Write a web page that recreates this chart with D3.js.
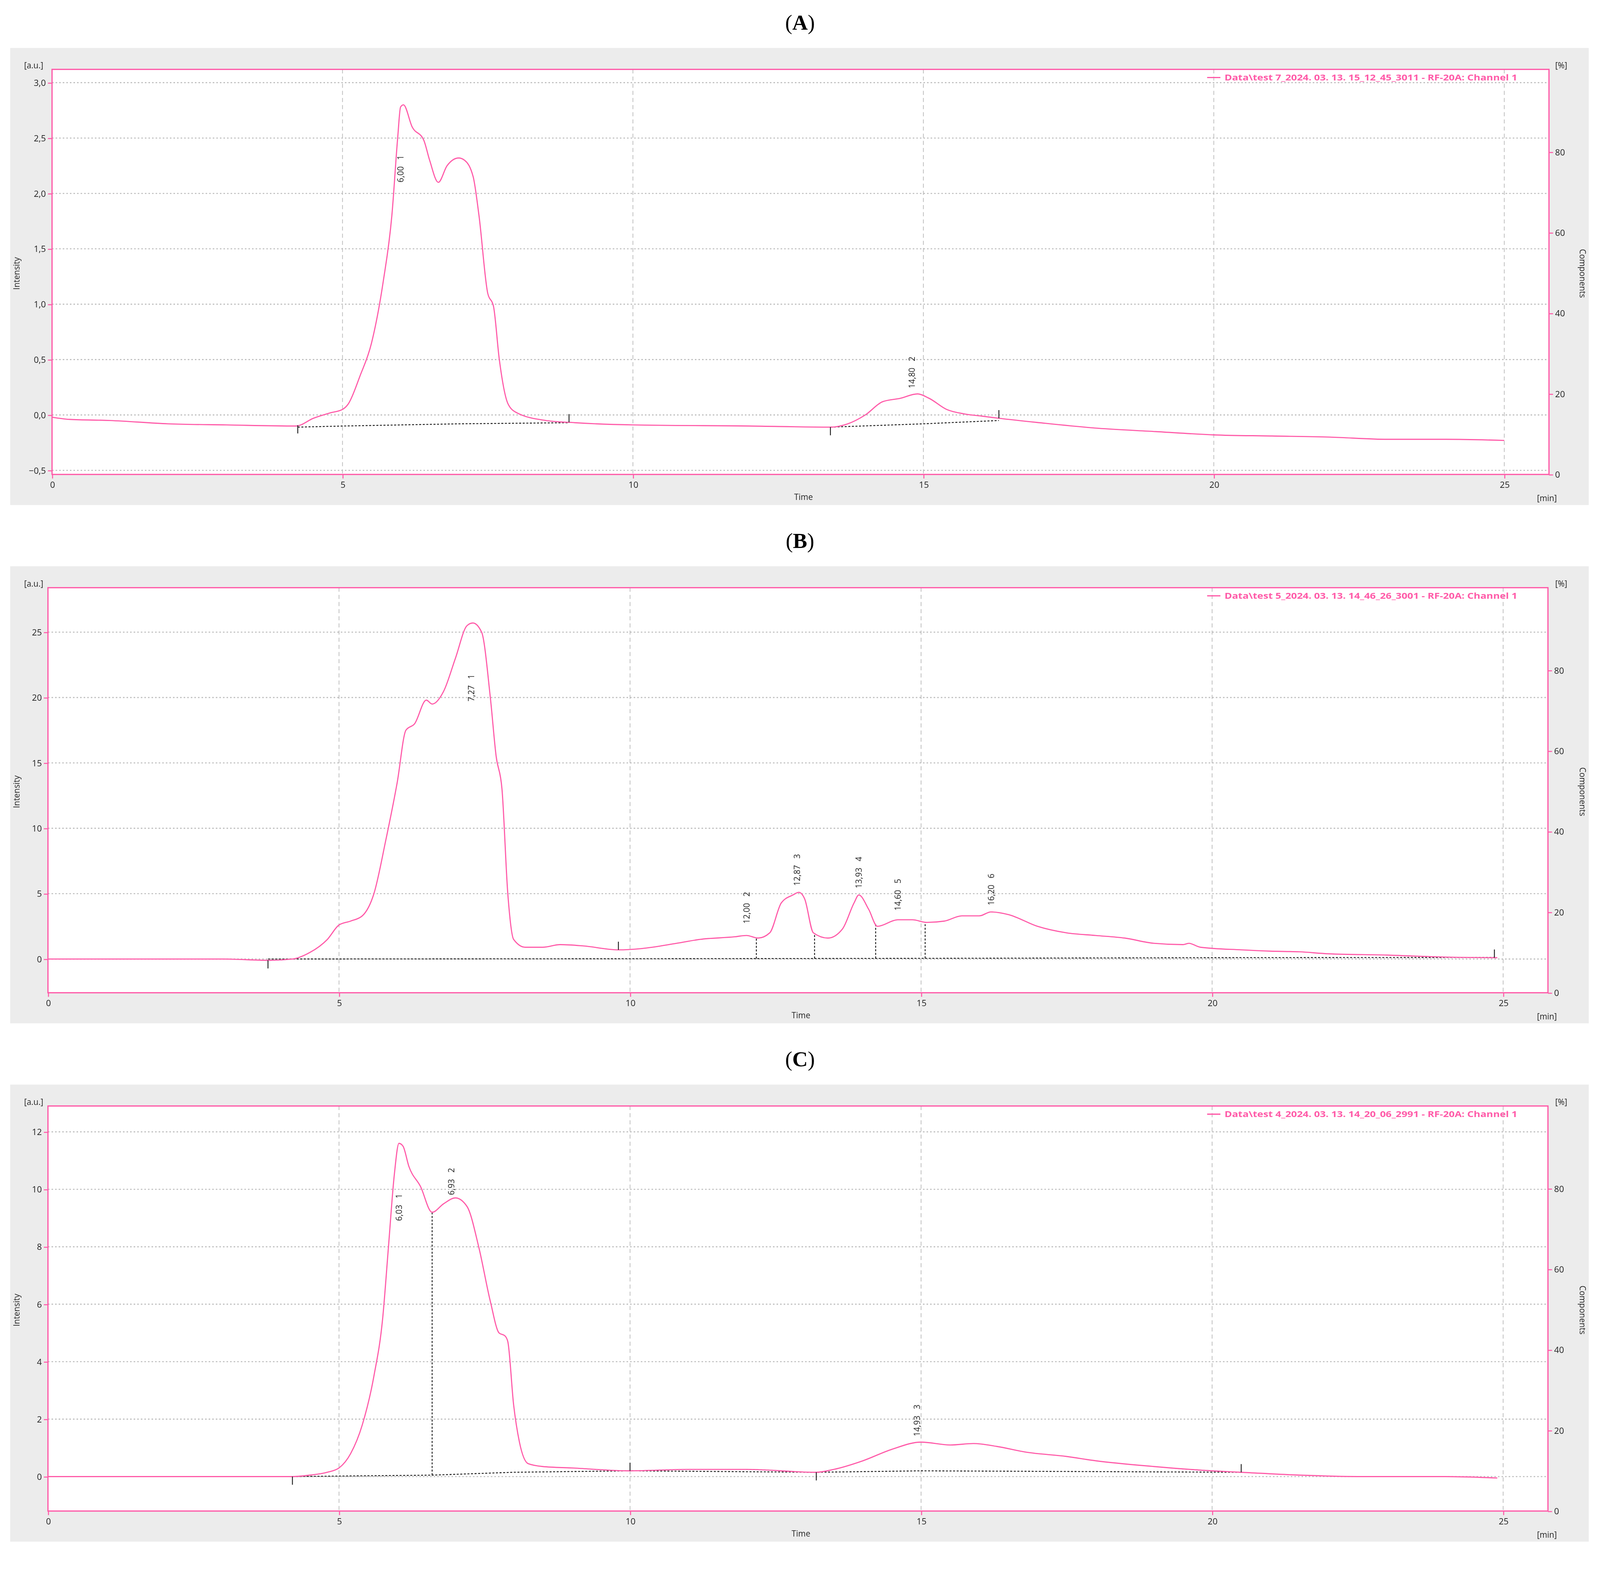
<!DOCTYPE html>
<html><head><meta charset="utf-8">
<script src="https://cdn.jsdelivr.net/npm/d3@7"></script>
<style>html,body{margin:0;background:#fff;overflow:hidden}svg{position:fixed;left:0;top:0;width:100vw;height:100vh}</style>
</head><body>
<script>
// chromatogram data: [time min, intensity]
var traceA = [[0,-0.02],[0.3,-0.04],[1,-0.05],[2,-0.08],[3,-0.09],[4.2,-0.1],[4.5,-0.03],[4.8,0.02],[5.0,0.05],[5.1,0.1],[5.3,0.35],[5.5,0.65],[5.7,1.2],[5.85,1.8],[5.95,2.5],[6.0,2.78],[6.05,2.8],[6.2,2.6],[6.4,2.48],[6.5,2.3],[6.65,2.1],[6.8,2.25],[7.0,2.32],[7.1,2.3],[7.25,2.15],[7.35,1.8],[7.5,1.1],[7.6,0.98],[7.7,0.5],[7.85,0.1],[8.0,0.02],[8.5,-0.05],[9,-0.07],[10,-0.09],[12,-0.1],[13.4,-0.11],[13.7,-0.08],[14.0,0.0],[14.3,0.12],[14.6,0.15],[14.9,0.19],[15.1,0.15],[15.4,0.05],[15.7,0.01],[16,-0.01],[16.3,-0.03],[17,-0.07],[18,-0.12],[19,-0.15],[20,-0.18],[21,-0.19],[22,-0.2],[23,-0.22],[24,-0.22],[25,-0.23]];
var traceB = [[0,0],[3,0],[3.8,-0.1],[4.2,0],[4.5,0.5],[4.8,1.5],[5.0,2.6],[5.2,2.9],[5.4,3.3],[5.6,5],[5.8,9],[6.0,13.5],[6.15,17.5],[6.3,18],[6.5,19.8],[6.6,19.5],[6.8,20.5],[7.0,23],[7.2,25.5],[7.3,25.7],[7.45,25],[7.6,20],[7.7,15.5],[7.8,13],[7.9,5],[8.0,1.5],[8.2,0.9],[8.5,0.9],[8.8,1.1],[9.2,1.0],[9.8,0.7],[10.2,0.8],[10.8,1.2],[11.2,1.5],[11.8,1.7],[12.0,1.8],[12.2,1.6],[12.4,2.0],[12.6,4.3],[12.8,4.9],[12.9,5.1],[13.0,4.6],[13.15,2.0],[13.4,1.6],[13.65,2.3],[13.85,4.3],[13.93,4.9],[14.1,3.8],[14.25,2.5],[14.6,3.0],[14.85,3.0],[15.1,2.8],[15.4,2.9],[15.7,3.3],[16.0,3.3],[16.2,3.6],[16.5,3.4],[17,2.5],[17.5,2.0],[18,1.8],[18.5,1.6],[19,1.2],[19.5,1.1],[19.6,1.2],[19.8,0.9],[20.5,0.7],[21,0.6],[21.5,0.55],[22,0.4],[23,0.3],[24,0.15],[24.9,0.1]];
var traceC = [[0,0],[4.2,0],[4.5,0.05],[4.8,0.15],[5.0,0.3],[5.2,0.8],[5.4,1.8],[5.6,3.5],[5.75,5.5],[5.85,8],[5.95,10.5],[6.03,11.6],[6.1,11.5],[6.2,10.8],[6.4,10.1],[6.6,9.2],[6.8,9.5],[7.0,9.7],[7.2,9.4],[7.4,8.0],[7.6,6.1],[7.75,5.0],[7.85,4.9],[7.9,4.7],[8.0,2.5],[8.1,1.2],[8.25,0.45],[8.5,0.35],[9,0.3],[10,0.2],[11,0.25],[12,0.25],[13.2,0.15],[13.5,0.25],[14.0,0.55],[14.5,0.95],[15.0,1.2],[15.5,1.1],[15.9,1.15],[16.3,1.05],[16.8,0.85],[17.5,0.7],[18,0.55],[19,0.35],[20,0.2],[20.5,0.15],[21.5,0.05],[22.5,0.0],[24,0.0],[24.9,-0.05]];

// integration baselines [t, y]
var baseA = [[[4.23,-0.11],[5,-0.1],[6,-0.09],[7,-0.08],[8.9,-0.07]],[[13.4,-0.11],[15,-0.08],[16.3,-0.05]]];
var baseB = [[[3.78,0],[10,0.02],[15,0.05],[20,0.1],[24.85,0.12]]];
var baseC = [[[4.2,0],[6.6,0.05],[8,0.15],[10,0.2],[13.2,0.15],[15,0.2],[20.5,0.15]]];

// integration marks [t, dir] (dir -1 = down, 1 = up)
var marksA = [[4.23,-1],[8.9,1],[13.4,-1],[16.3,1]];
var marksB = [[3.78,-1],[9.8,1],[24.85,1]];
var marksC = [[4.2,-1],[10,1],[13.2,-1],[20.5,1]];

// drop lines between peaks: t
var dropsB = [12.17,13.17,14.22,15.07];
var dropsC = [6.6];

// peak labels [t, label y, text]
var peaksA = [[6.0,2.1,"6,00   1"],[14.8,0.24,"14,80   2"]];
var peaksB = [[7.27,19.7,"7,27   1"],[12.0,2.7,"12,00   2"],[12.87,5.6,"12,87   3"],[13.93,5.4,"13,93   4"],[14.6,3.7,"14,60   5"],[16.2,4.1,"16,20   6"]];
var peaksC = [[6.03,8.9,"6,03   1"],[6.93,9.8,"6,93   2"],[14.93,1.4,"14,93   3"]];

var xTicks = [0,5,10,15,20,25];
var pctTicks = [0,20,40,60,80];
var yTicksA = [-0.5,0,0.5,1,1.5,2,2.5,3];
var yTicksB = [0,5,10,15,20,25];
var yTicksC = [0,2,4,6,8,10,12];

var panels = [
  {title:"A", top:47, trace:traceA, base:baseA, marks:marksA, drops:[], peaks:peaksA, yt:yTicksA, ydom:[-0.537,3.12], fmt:function(d){return d3.format(".1f")(d).replace(".",",");}, legend:"Data\\test 7_2024. 03. 13. 15_12_45_3011 - RF-20A: Channel 1", px0:51, px1:1518},
  {title:"B", top:555, trace:traceB, base:baseB, marks:marksB, drops:dropsB, peaks:peaksB, yt:yTicksB, ydom:[-2.58,28.4], fmt:String, legend:"Data\\test 5_2024. 03. 13. 14_46_26_3001 - RF-20A: Channel 1", px0:47, px1:1517},
  {title:"C", top:1063, trace:traceC, base:baseC, marks:marksC, drops:dropsC, peaks:peaksC, yt:yTicksC, ydom:[-1.2,12.9], fmt:String, legend:"Data\\test 4_2024. 03. 13. 14_20_06_2991 - RF-20A: Channel 1", px0:47, px1:1517}
];

var pink = "#ff5aa8", font = "Open Sans, DejaVu Sans, sans-serif";
var svg = d3.select("body").append("svg")
  .attr("viewBox","0 0 1568 1525.4").attr("preserveAspectRatio","xMidYMin meet");

panels.forEach(function(p){
  var g = svg.append("g").attr("transform","translate(0,"+p.top+")");
  var t0 = 21, t1 = 418;
  var x = d3.scaleLinear().domain([0,25]).range([p.px0, p.px0 + (p.px1-p.px0)*25/25.77]);
  var y = d3.scaleLinear().domain(p.ydom).range([t1,t0]);
  var yr = d3.scaleLinear().domain([0,100.5]).range([t1,t0]);

  svg.append("text").attr("x",784).attr("y",p.top-18).attr("text-anchor","middle")
    .attr("font-family","Liberation Serif, serif").attr("font-size",21)
    .html('(<tspan font-weight="bold">'+p.title+'</tspan>)');

  g.append("rect").attr("x",10).attr("y",0).attr("width",1547).attr("height",448).attr("fill","#ececec");
  g.append("rect").attr("x",p.px0).attr("y",t0).attr("width",p.px1-p.px0).attr("height",t1-t0).attr("fill","#fff");

  // grid
  g.selectAll(".hg").data(p.yt).enter().append("line")
    .attr("x1",p.px0).attr("x2",p.px1).attr("y1",y).attr("y2",y)
    .attr("stroke","#bbb").attr("stroke-width",1).attr("stroke-dasharray","1.5,2");
  g.selectAll(".vg").data(xTicks.filter(function(d){return d>0;})).enter().append("line")
    .attr("x1",x).attr("x2",x).attr("y1",t0).attr("y2",t1)
    .attr("stroke","#bbb").attr("stroke-width",0.7).attr("stroke-dasharray","4,3");

  // axes
  var ax = g.append("g").attr("transform","translate(0,"+t1+")")
    .call(d3.axisBottom(x).tickValues(xTicks).tickSize(4).tickPadding(3));
  var ay = g.append("g").attr("transform","translate("+p.px0+",0)")
    .call(d3.axisLeft(y).tickValues(p.yt).tickFormat(p.fmt).tickSize(4).tickPadding(2));
  var ar = g.append("g").attr("transform","translate("+p.px1+",0)")
    .call(d3.axisRight(yr).tickValues(pctTicks).tickSize(4).tickPadding(2));
  [ax,ay,ar].forEach(function(a){
    a.select(".domain").remove();
    a.selectAll("line").attr("stroke",pink);
    a.selectAll("text").attr("font-family",font).attr("font-size",8.5).attr("fill","#222");
  });
  g.append("rect").attr("x",p.px0).attr("y",t0).attr("width",p.px1-p.px0).attr("height",t1-t0)
    .attr("fill","none").attr("stroke",pink).attr("stroke-width",1.2);

  // labels
  var lab = function(xx,yy,s,rot,anchor){
    var tx = g.append("text").attr("font-family",font).attr("font-size",8).attr("fill","#222")
      .attr("text-anchor",anchor||"middle").text(s);
    tx.attr("transform","translate("+xx+","+yy+")"+(rot?" rotate("+rot+")":""));
  };
  lab(33,20,"[a.u.]");
  lab(1530,20,"[%]");
  lab(p.px0+ (p.px1-p.px0)*0.502,446-3,"Time");
  lab(1516,444,"[min]");
  lab(19,221,"Intensity",-90);
  lab(1548,221,"Components",90);

  // legend
  g.append("line").attr("x1",1183).attr("x2",1196).attr("y1",29).attr("y2",29).attr("stroke",pink).attr("stroke-width",1.2);
  g.append("text").attr("x",1200).attr("y",32).attr("font-family",font).attr("font-size",8.5)
    .attr("font-weight","bold").attr("fill",pink).attr("textLength",287).attr("lengthAdjust","spacingAndGlyphs").text(p.legend);

  // baseline
  p.base.forEach(function(b){
    g.append("path").attr("d",d3.line().x(function(d){return x(d[0]);}).y(function(d){return y(d[1]);})(b))
      .attr("fill","none").attr("stroke","#222").attr("stroke-width",0.9).attr("stroke-dasharray","2,1.5");
  });
  // drop lines
  p.drops.forEach(function(t){
    var yc = y(d3.scaleLinear().domain(p.trace.map(function(d){return d[0];})).range(p.trace.map(function(d){return d[1];}))(t));
    var bs = p.base[0], yb = y(d3.scaleLinear().domain(bs.map(function(d){return d[0];})).range(bs.map(function(d){return d[1];}))(t));
    g.append("line").attr("x1",x(t)).attr("x2",x(t)).attr("y1",yb).attr("y2",yc)
      .attr("stroke","#222").attr("stroke-width",0.9).attr("stroke-dasharray","2,1.5");
  });

  // trace
  g.append("path").attr("d",d3.line().curve(d3.curveMonotoneX).x(function(d){return x(d[0]);}).y(function(d){return y(d[1]);})(p.trace))
    .attr("fill","none").attr("stroke",pink).attr("stroke-width",1.1);

  // integration marks
  p.marks.forEach(function(m){
    var trc = d3.scaleLinear().domain(p.trace.map(function(d){return d[0];})).range(p.trace.map(function(d){return d[1];}));
    var yy = y(trc(m[0]));
    g.append("line").attr("x1",x(m[0])).attr("x2",x(m[0])).attr("y1",yy).attr("y2",yy - m[1]*8)
      .attr("stroke","#222").attr("stroke-width",0.9);
  });

  // peak labels
  p.peaks.forEach(function(k){
    g.append("text").attr("transform","translate("+(x(k[0])+3)+","+y(k[1])+") rotate(-90)")
      .attr("font-family",font).attr("font-size",8).attr("fill","#222").attr("xml:space","preserve").text(k[2]);
  });
});
</script>
</body></html>
